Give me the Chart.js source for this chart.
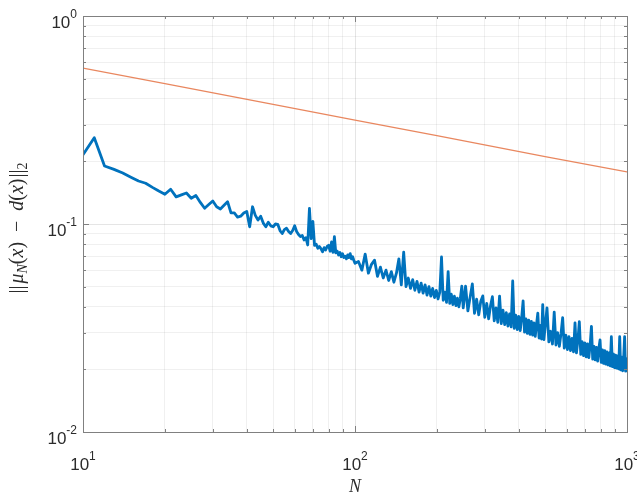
<!DOCTYPE html>
<html>
<head>
<meta charset="utf-8">
<script src="https://cdn.jsdelivr.net/npm/chart.js@4.4.1/dist/chart.umd.min.js"></script>
<style>
  body { margin: 0; background: #ffffff; }
  canvas { display: block; }
</style>
</head>
<body>
<canvas id="graficaError" width="637" height="494"></canvas>
<script>
// Error ||mu_N(x) - d(x)||_2 contra N (escala log-log)

// N = 10..100, paso 1
const nA = [10,11,12,13,14,15,16,17,18,19,20,21,22,23,24,25,26,27,28,29,
  30,31,32,33,34,35,36,37,38,39,40,41,42,43,44,45,46,47,48,49,
  50,51,52,53,54,55,56,57,58,59,60,61,62,63,64,65,66,67,68,69,
  70,71,72,73,74,75,76,77,78,79,80,81,82,83,84,85,86,87,88,89,
  90,91,92,93,94,95,96,97,98,99,100];
const errA = [0.215,0.26,0.19,0.183,0.176,0.168,0.161,0.157,0.150,0.144,
  0.139,0.147,0.135,0.138,0.141,0.133,0.137,0.127,0.119,0.124,
  0.129,0.121,0.118,0.123,0.128,0.113,0.113,0.108,0.109,0.113,
  0.115,0.097,0.121,0.110,0.1045,0.109,0.101,0.097,0.102,0.098,
  0.097,0.100,0.0997,0.093,0.090,0.094,0.0955,0.092,0.090,0.093,
  0.098,0.092,0.089,0.087,0.088,0.0838,0.086,0.0793,0.119,0.085,
  0.103,0.079,0.080,0.0764,0.078,0.076,0.0735,0.077,0.075,0.078,
  0.079,0.074,0.082,0.073,0.087,0.0726,0.074,0.071,0.073,0.0696,
  0.072,0.069,0.070,0.068,0.071,0.069,0.072,0.068,0.0696,0.067,
  0.0647];

// N = 103..250
const nB = [103,106,109,112,115,118,121,124,127,130,133,136,139,142,145,148,151,154,157,160,
  163,166,169,172,175,178,181,184,187,190,193,196,199,202,205,208,211,214,217,220,
  223,226,229,232,235,238,241,244,247,250];
const errB = [0.066,0.060,0.0717,0.058,0.064,0.067,0.056,0.062,0.055,0.060,
  0.0535,0.059,0.0525,0.058,0.068,0.051,0.0733,0.050,0.055,0.049,
  0.054,0.048,0.053,0.047,0.052,0.0465,0.051,0.0455,0.050,0.045,
  0.049,0.0443,0.048,0.0436,0.047,0.0694,0.043,0.047,0.042,0.059,
  0.0415,0.046,0.041,0.045,0.0405,0.044,0.040,0.044,0.0503,0.0395];

// N = 255..500
const nC = [255,260,265,270,275,280,285,290,295,300,305,310,315,320,325,330,335,340,345,350,
  355,360,365,370,375,380,385,390,395,400,405,410,415,420,425,430,435,440,445,450,
  455,460,465,470,475,480,485,490,495,500];
const errC = [0.0503,0.0382,0.0445,0.0515,0.0372,0.0435,0.0366,0.0425,0.0451,0.0356,
  0.0415,0.035,0.0405,0.0447,0.0342,0.0395,0.0337,0.045,0.0332,0.0385,
  0.0328,0.0375,0.0323,0.037,0.032,0.0532,0.0315,0.0365,0.0311,0.036,
  0.0307,0.0355,0.0427,0.0302,0.035,0.0298,0.0345,0.0295,0.034,0.0292,
  0.0335,0.0288,0.033,0.0373,0.0283,0.0325,0.028,0.041,0.0278,0.032];

// N = 508..1000
const nD = [508,516,524,532,540,548,556,564,572,580,588,596,604,612,620,628,636,644,652,660,
  668,676,684,692,700,708,716,724,732,740,748,756,764,772,780,788,796,804,812,820,
  828,836,844,852,860,868,876,884,892,900,908,916,924,932,940,948,956,964,972,980,
  988,996,1000];
const errD = [0.0395,0.0271,0.0305,0.0265,0.0377,0.0262,0.030,0.0258,0.0297,0.0355,
  0.0253,0.0292,0.0249,0.0287,0.0246,0.0282,0.0243,0.0335,0.024,0.0277,
  0.0339,0.0236,0.0272,0.0233,0.0268,0.023,0.0265,0.0228,0.0262,0.0322,
  0.0224,0.0258,0.0222,0.0255,0.0219,0.0252,0.0277,0.0216,0.0248,0.0214,
  0.0246,0.0212,0.0243,0.021,0.024,0.0208,0.0287,0.0206,0.0237,0.0204,
  0.0234,0.0203,0.0232,0.0201,0.0287,0.0199,0.0229,0.0197,0.0227,0.0287,
  0.0196,0.0225,0.0194];

// Recta de referencia (naranja)
const nRef = [10, 20, 50, 100, 200, 500, 1000];
const errRef = [0.562, 0.473, 0.376, 0.316, 0.266, 0.211, 0.178];

// Marcas de los ejes
const xTicks = [10,20,30,40,50,60,70,80,90,100,200,300,400,500,600,700,800,900,1000];
const yTicks = [0.01,0.02,0.03,0.04,0.05,0.06,0.07,0.08,0.09,0.1,0.2,0.3,0.4,0.5,0.6,0.7,0.8,0.9,1];
const xLabels = { 10: '1', 100: '2', 1000: '3' };
const yLabels = { 1: '0', 0.1: '-1', 0.01: '-2' };

const nAll = nA.concat(nB, nC, nD);
const errAll = errA.concat(errB, errC, errD);

const colorEje = '#808080';
const colorTexto = '#2b2b2b';

function esMayor(v) {
    const e = Math.log10(v);
    return Math.abs(e - Math.round(e)) < 1e-9;
}

// Dibuja "10" con exponente
function dibujarPotencia(ctx, exp, x, base, alinear) {
    ctx.font = '17px "Liberation Sans", Arial, sans-serif';
    const wb = ctx.measureText('10').width;
    ctx.font = '12px "Liberation Sans", Arial, sans-serif';
    const we = ctx.measureText(exp).width;
    const total = wb + we;
    const x0 = alinear === 'center' ? x - total / 2 : x - total;
    ctx.textAlign = 'left';
    ctx.textBaseline = 'alphabetic';
    ctx.font = '17px "Liberation Sans", Arial, sans-serif';
    ctx.fillText('10', x0, base);
    ctx.font = '12px "Liberation Sans", Arial, sans-serif';
    ctx.fillText(exp, x0 + wb, base - 10);
}

// Caja, marcas internas, etiquetas y títulos al estilo MATLAB
const cajaPlugin = {
    id: 'caja',
    afterDraw(chart) {
        const { ctx, chartArea: a, scales: { x, y } } = chart;
        ctx.save();
        ctx.strokeStyle = colorEje;
        ctx.lineWidth = 1;
        ctx.strokeRect(Math.round(a.left) + 0.5, Math.round(a.top) + 0.5,
            Math.round(a.right - a.left), Math.round(a.bottom - a.top));
        ctx.beginPath();
        xTicks.forEach(v => {
            const px = Math.round(x.getPixelForValue(v)) + 0.5;
            const len = esMayor(v) ? 6 : 3;
            ctx.moveTo(px, a.bottom); ctx.lineTo(px, a.bottom - len);
            ctx.moveTo(px, a.top); ctx.lineTo(px, a.top + len);
        });
        yTicks.forEach(v => {
            const py = Math.round(y.getPixelForValue(v)) + 0.5;
            const len = esMayor(v) ? 6 : 3;
            ctx.moveTo(a.left, py); ctx.lineTo(a.left + len, py);
            ctx.moveTo(a.right, py); ctx.lineTo(a.right - len, py);
        });
        ctx.stroke();

        ctx.fillStyle = colorTexto;
        Object.keys(xLabels).forEach(k => {
            dibujarPotencia(ctx, xLabels[k], x.getPixelForValue(Number(k)), a.bottom + 38, 'center');
        });
        Object.keys(yLabels).forEach(k => {
            dibujarPotencia(ctx, yLabels[k], a.left - 6, y.getPixelForValue(Number(k)) + 12, 'right');
        });

        // Título del eje X
        ctx.font = 'italic 18px "Liberation Serif", serif';
        ctx.textAlign = 'center';
        ctx.fillText('N', (a.left + a.right) / 2, 492);

        // Título del eje Y (rotado)
        const partes = [
            { t: '|', f: '20px "Liberation Serif", serif' },
            { t: '|', f: '20px "Liberation Serif", serif', sp: 2 },
            { t: 'μ', f: 'italic 20px "Liberation Serif", serif' },
            { t: 'N', f: 'italic 14px "Liberation Serif", serif', dy: 4 },
            { t: '(', f: '20px "Liberation Serif", serif' },
            { t: 'x', f: 'italic 20px "Liberation Serif", serif' },
            { t: ')  −  ', f: '20px "Liberation Serif", serif' },
            { t: 'd', f: 'italic 20px "Liberation Serif", serif' },
            { t: '(', f: '20px "Liberation Serif", serif' },
            { t: 'x', f: 'italic 20px "Liberation Serif", serif' },
            { t: ')', f: '20px "Liberation Serif", serif', sp: 1 },
            { t: '|', f: '20px "Liberation Serif", serif' },
            { t: '|', f: '20px "Liberation Serif", serif' },
            { t: '2', f: '14px "Liberation Serif", serif', dy: 4 }
        ];
        let total = 0;
        partes.forEach(p => { ctx.font = p.f; p.w = ctx.measureText(p.t).width + (p.sp || 0); total += p.w; });
        ctx.translate(23, (a.top + a.bottom) / 2 + 4);
        ctx.rotate(-Math.PI / 2);
        ctx.textAlign = 'left';
        let pos = -total / 2;
        partes.forEach(p => {
            ctx.font = p.f;
            ctx.fillText(p.t, pos, p.dy || 0);
            pos += p.w;
        });
        ctx.restore();
    }
};

const ctx = document.getElementById('graficaError').getContext('2d');
new Chart(ctx, {
    type: 'line',
    data: {
        datasets: [{
            label: 'error',
            data: nAll.map((n, i) => ({ x: n, y: errAll[i] })),
            borderColor: '#0072BD',
            borderWidth: 2.8,
            borderJoinStyle: 'round',
            pointRadius: 0,
            tension: 0
        }, {
            label: 'referencia',
            data: nRef.map((n, i) => ({ x: n, y: errRef[i] })),
            borderColor: '#E9875F',
            borderWidth: 1.3,
            pointRadius: 0,
            tension: 0
        }]
    },
    options: {
        responsive: false,
        animation: false,
        events: [],
        layout: { padding: { left: 83, top: 16, right: 10, bottom: 62 } },
        plugins: { legend: { display: false }, tooltip: { enabled: false } },
        scales: {
            x: {
                type: 'logarithmic',
                min: 10,
                max: 1000,
                afterBuildTicks: s => { s.ticks = xTicks.map(v => ({ value: v })); },
                ticks: { display: false },
                grid: {
                    drawTicks: false,
                    color: c => esMayor(c.tick.value) ? 'rgba(0,0,0,0.10)' : 'rgba(0,0,0,0.06)'
                },
                border: { display: false }
            },
            y: {
                type: 'logarithmic',
                min: 0.01,
                max: 1,
                afterBuildTicks: s => { s.ticks = yTicks.map(v => ({ value: v })); },
                ticks: { display: false },
                grid: {
                    drawTicks: false,
                    color: c => esMayor(c.tick.value) ? 'rgba(0,0,0,0.10)' : 'rgba(0,0,0,0.06)'
                },
                border: { display: false }
            }
        }
    },
    plugins: [cajaPlugin]
});
</script>
</body>
</html>
